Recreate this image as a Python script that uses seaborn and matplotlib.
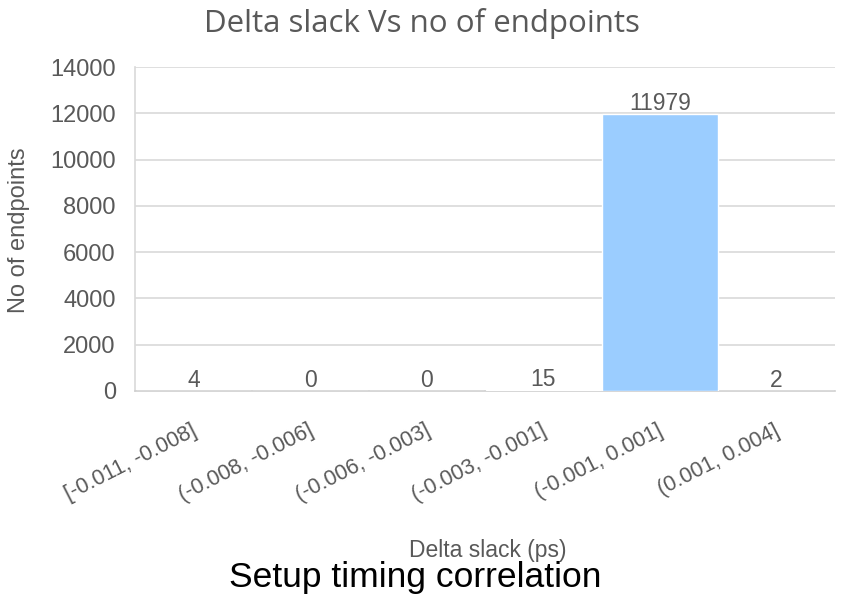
import matplotlib
matplotlib.use("Agg")
import matplotlib.pyplot as plt
import matplotlib.transforms as mtransforms
import seaborn as sns
import pandas as pd

# Histogram bins of delta slack and the endpoint count in each
bins = ["[-0.011, -0.008]", "(-0.008, -0.006]", "(-0.006, -0.003]",
        "(-0.003, -0.001]", "(-0.001, 0.001]", "(0.001, 0.004]"]
counts = [4, 0, 0, 15, 11979, 2]
y_ticks = [0, 2000, 4000, 6000, 8000, 10000, 12000, 14000]

df = pd.DataFrame({"bin": bins, "count": counts})

sns.set_theme(style="white")
plt.rcParams["font.family"] = ["Liberation Sans", "DejaVu Sans"]

grey = "#595959"
fig = plt.figure(figsize=(8.45, 6.05), dpi=100)
ax = fig.add_axes([0.160, 0.354, 0.828, 0.535])

sns.barplot(data=df, x="bin", y="count", color="#9bcdff", width=0.99,
            saturation=1, ax=ax, zorder=3)

ax.set_ylim(0, 14000)
ax.set_xlim(-0.5, len(bins) - 0.5)
ax.set_yticks(y_ticks)
ax.set_yticklabels([str(t) for t in y_ticks], fontsize=17, color=grey)
ax.yaxis.grid(True, color="#d9d9d9", linewidth=1.2, zorder=0)
ax.set_axisbelow(True)

ax.tick_params(axis="y", length=0, pad=14)
ax.tick_params(axis="x", length=0, pad=28)
ax.set_xticks(range(len(bins)))
ax.set_xticklabels(bins, rotation=27, ha="right", va="center",
                   rotation_mode="anchor", fontsize=15.5, color=grey)
shift = mtransforms.ScaledTranslation(1.5 / 72, 0, fig.dpi_scale_trans)
for lbl in ax.get_xticklabels():
    lbl.set_transform(lbl.get_transform() + shift)

for side in ["top", "right"]:
    ax.spines[side].set_visible(False)
ax.spines["left"].set_color("#d9d9d9")
ax.spines["left"].set_linewidth(1.2)
ax.spines["bottom"].set_color("#cfcfcf")
ax.spines["bottom"].set_linewidth(1.2)

# Value labels just above each bar
for i, c in enumerate(counts):
    ax.annotate(str(c), (i, c), xytext=(0, 3), textcoords="offset points",
                ha="center", va="baseline", fontsize=16.5, color=grey)

ax.set_xlabel("")
ax.set_ylabel("")
fig.text(0.0225, 0.620, "No of endpoints", rotation=90, ha="center",
         va="center", fontsize=17, color=grey)

fig.text(0.499, 0.947, "Delta slack Vs no of endpoints", ha="center",
         va="baseline", fontsize=22.5, color=grey,
         family=["Open Sans", "DejaVu Sans"])
fig.text(0.577, 0.079, "Delta slack (ps)", ha="center", va="baseline",
         fontsize=16.5, color=grey)
fig.text(0.491, 0.030, "Setup timing correlation", ha="center",
         va="baseline", fontsize=25.5, color="black")

fig.savefig("out.png", dpi=100)
